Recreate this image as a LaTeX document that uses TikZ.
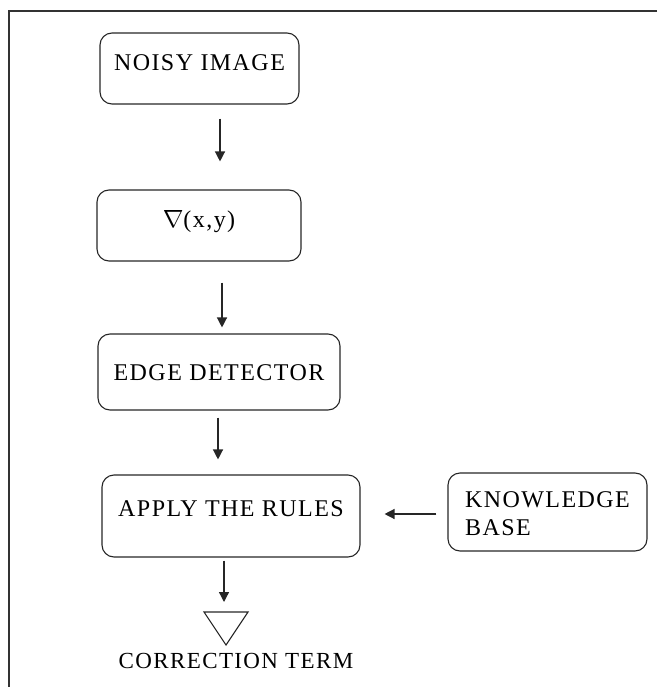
\documentclass[tikz,border=0pt]{standalone}
\usepackage{fontspec}
\setmainfont{Liberation Serif}[LetterSpace=6]
\usetikzlibrary{arrows.meta}
\begin{document}
\begin{tikzpicture}[x=1pt,y=-1pt,
  box/.style={draw=black!85, rounded corners=12pt, line width=1.1pt, inner sep=0pt,
    font=\fontsize{24}{28}\selectfont},
  lbl/.style={inner sep=0pt, font=\fontsize{23}{28}\selectfont},
  arr/.style={draw=black!85, line width=1.3pt, -{Triangle[width=10pt,length=10pt]}},
]
\useasboundingbox (0,0) rectangle (657,687);
\draw[line width=1.6pt, black!80] (657,11) -- (9,11) -- (9,687);

\node[box, minimum width=199pt, minimum height=71pt, text height=16pt, text depth=12pt]
  (noisy) at (199.5,68.5) {NOISY IMAGE};
\node[box, minimum width=204pt, minimum height=71pt, text height=17pt, text depth=14pt]
  (grad) at (199,225.5) {$\nabla$(x,y)};
\node[box, minimum width=242pt, minimum height=76pt, text height=16pt, text depth=0pt]
  (edge) at (219,372) {EDGE DETECTOR};
\node[box, minimum width=258pt, minimum height=82pt, text height=16pt, text depth=16pt]
  (apply) at (231,516) {APPLY THE RULES};
\node[box, minimum width=199pt, minimum height=78pt, align=left, text height=46pt, text depth=0pt]
  (know) at (547.5,512) {KNOWLEDGE\\BASE};

\coordinate (tritop) at (226,612);
\draw[line width=1.1pt, black!85] (204,612) -- (248,612) -- (226,645) -- cycle;
\node[lbl, text height=16pt, text depth=0pt] (corr) at (236,660) {CORRECTION TERM};

\coordinate (x1) at (220,0);
\coordinate (x2) at (222,0);
\coordinate (x3) at (218,0);
\coordinate (x4) at (224,0);
\coordinate (y5) at (0,514);

\draw[arr, shorten <=14pt, shorten >=28pt] (noisy.south -| x1) -- (grad.north -| x1);
\draw[arr, shorten <=21pt, shorten >=6pt] (grad.south -| x2) -- (edge.north -| x2);
\draw[arr, shorten <=7pt, shorten >=15pt] (edge.south -| x3) -- (apply.north -| x3);
\draw[arr, shorten <=3pt, shorten >=10pt] (apply.south -| x4) -- (x4 |- tritop);
\draw[arr, shorten <=11pt, shorten >=24pt] (know.west |- y5) -- (apply.east |- y5);
\end{tikzpicture}
\end{document}
